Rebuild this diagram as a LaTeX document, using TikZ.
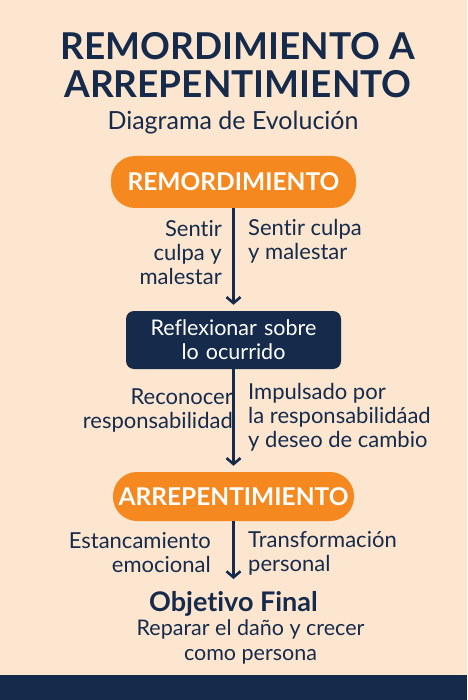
\documentclass[tikz,border=0pt]{standalone}
\usepackage{fontspec}
\setmainfont{Lato}[Ligatures=NoCommon]
\usetikzlibrary{shapes,arrows.meta,positioning}

\definecolor{peach}{HTML}{FCE6D0}
\definecolor{navy}{HTML}{162B4B}
\definecolor{naranja}{HTML}{F5881F}

\tikzset{
  pill/.style={fill=naranja, rounded corners=24pt, text=white, inner sep=0pt,
    font=\bfseries\fontsize{24.5}{26}\selectfont},
  caja/.style={fill=navy, rounded corners=8pt, text=white, align=center, inner sep=0pt,
    minimum width=215pt, minimum height=58pt, font=\fontsize{21.5}{24}\selectfont},
  etiqueta/.style={text=navy, inner sep=0pt, font=\fontsize{22}{24}\selectfont},
  flecha/.style={draw=navy, line width=2.6pt, -{Straight Barb[length=6pt,width=14pt]},
    shorten >=6pt},
}

\begin{document}
\begin{tikzpicture}[x=1pt,y=-1pt]

\useasboundingbox (0,0) rectangle (467,700);
\fill[peach] (0,0) rectangle (467,700);
\fill[navy] (0,675) rectangle (467,700);

\node (Titulo) [text=navy, align=center, font=\bfseries\fontsize{37}{38}\selectfont] at (238,65)
  {REMORDIMIENTO A\\ARREPENTIMIENTO};
\node (Sub) [node distance=58pt, below of=Titulo, text=navy, font=\fontsize{25}{26}\selectfont, xshift=-5pt]
  {Diagrama de Evolución};

\node (Remord) [pill, minimum width=245pt, minimum height=52pt] at (233.5,182) {REMORDIMIENTO};
\node (Reflex) [caja, node distance=158pt, below of=Remord, text width=200pt] {Reflexionar sobre\\lo ocurrido};
\node (Arrep) [pill, minimum width=241pt, minimum height=49pt, node distance=156.5pt, below of=Reflex]
  {ARREPENTIMIENTO};

\node (Obj) [node distance=107.5pt, below of=Arrep, text=navy, font=\bfseries\fontsize{27}{28}\selectfont]
  {Objetivo Final};
\node (Reparar) [node distance=38pt, below of=Obj, xshift=17pt, text=navy, align=center,
  font=\fontsize{21.5}{24.5}\selectfont] {Reparar el daño y crecer\\como persona};

\node (SentirA) [etiqueta, align=right, anchor=east] at (222,253) {Sentir\\culpa y\\malestar};
\node (SentirB) [etiqueta, align=left, anchor=west] at (248,241) {Sentir culpa\\y malestar};

\node (Recon) [etiqueta, align=right, anchor=east] at (233,411) {Reconocer\\responsabilidad};
\node (Impul) [etiqueta, align=left, anchor=west] at (248,417)
  {Impulsado por\\la responsabilidáad\\y deseo de cambio};

\node (Estanc) [etiqueta, align=right, anchor=east] at (211,553) {Estancamiento\\emocional};
\node (Transf) [etiqueta, align=left, anchor=west] at (248,553) {Transformación\\personal};

\coordinate (Fin) at (233.5,585);

\draw [flecha] (Remord) -- (Reflex);
\draw [flecha] (Reflex) -- (Arrep);
\draw [flecha] (Arrep) -- (Fin);

\end{tikzpicture}
\end{document}
